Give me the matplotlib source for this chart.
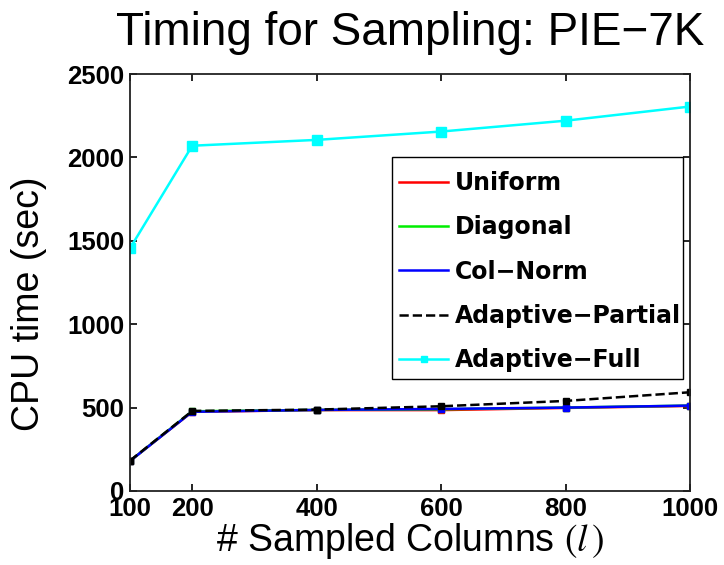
import matplotlib
matplotlib.use("Agg")
import matplotlib.pyplot as plt
from matplotlib.patches import Rectangle

# Sampled columns (l)
cols = [100, 200, 400, 600, 800, 1000]

# CPU time (sec) per method
uniform = [180, 475, 485, 485, 498, 510]
diagonal = [180, 478, 486, 490, 500, 512]
col_norm = [180, 475, 486, 492, 500, 512]
adaptive_partial = [182, 480, 488, 508, 540, 592]
adaptive_full = [1455, 2070, 2105, 2155, 2220, 2305]

xticks = [100, 200, 400, 600, 800, 1000]
yticks = [0, 500, 1000, 1500, 2000, 2500]

plt.rcParams['font.family'] = ['Liberation Sans', 'DejaVu Sans']

W, H = 724, 565
fig = plt.figure(figsize=(W / 100, H / 100), dpi=100)
ax = fig.add_axes([130 / W, 1 - 491 / H, 560 / W, 417 / H])

lw = 1.8
ms = 5
ax.plot(cols, uniform, color='red', lw=lw, label='Uniform')
ax.plot(cols, uniform, 's', color='red', ms=ms)
ax.plot(cols, diagonal, color='#00ee00', lw=lw, label='Diagonal')
ax.plot(cols, diagonal, 's', color='#00ee00', ms=ms)
ax.plot(cols, col_norm, color='blue', lw=lw, label='Col\u2212Norm')
ax.plot(cols, col_norm, 's', color='blue', ms=ms)
ax.plot(cols, adaptive_partial, '--', color='black', lw=lw, label='Adaptive\u2212Partial')
ax.plot(cols, adaptive_partial, 's', color='black', ms=ms)
ax.plot(cols, adaptive_full, '-s', color='cyan', lw=lw, ms=7.5, label='Adaptive\u2212Full')

ax.set_xlim(100, 1000)
ax.set_ylim(0, 2500)
ax.set_xticks(xticks)
ax.set_yticks(yticks)
ax.tick_params(direction='in', length=5, width=1.2, top=True, right=True,
               labelsize=18.5, pad=4)
for lab in ax.get_xticklabels() + ax.get_yticklabels():
    lab.set_fontweight('bold')
for s in ax.spines.values():
    s.set_linewidth(1.3)
    s.set_color('#222222')

ax.set_title('Timing for Sampling: PIE\u22127K', fontsize=33, pad=21)
ax.set_xlabel(r'# Sampled Columns $(l\,)$', fontsize=27, labelpad=0,
              math_fontfamily='stix')
ax.set_ylabel('CPU time (sec)', fontsize=27)
ax.yaxis.set_label_coords((47 - 130) / 560, 0.45)

leg = ax.legend(loc='upper left', bbox_to_anchor=(399 / W, 1 - 171 / H),
                bbox_transform=fig.transFigure, frameon=False,
                handlelength=2.08, handletextpad=0.3,
                labelspacing=0.86, borderpad=0, borderaxespad=0,
                prop={'family': 'DejaVu Sans', 'weight': 'bold', 'size': 17})
leg.legend_handles[-1].set_markersize(4)
leg.set_zorder(6)
# legend box outline
ax.add_patch(Rectangle((392 / W, 1 - 379 / H), 291 / W, 222 / H,
                       transform=fig.transFigure, facecolor='white',
                       edgecolor='black', lw=1.0, zorder=5, clip_on=False))

fig.savefig('out.png', dpi=100)
